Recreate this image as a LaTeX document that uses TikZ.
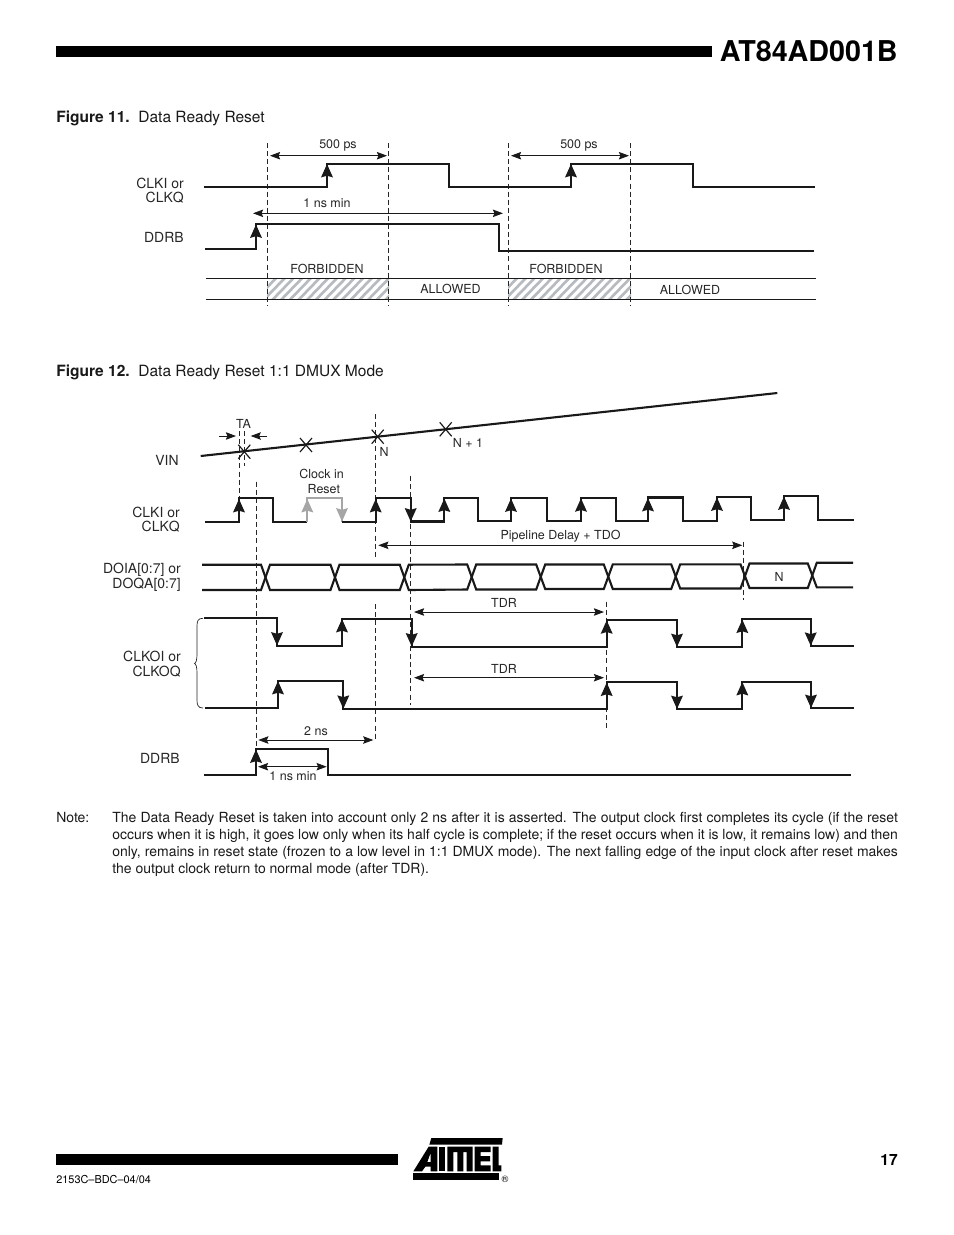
\documentclass[tikz,border=0pt]{standalone}
\usepackage{fontspec}
\setmainfont{TeX Gyre Heros}
\usetikzlibrary{arrows.meta}
\definecolor{hatchc}{RGB}{182,187,192}
\newcommand\upa[3]{\draw[wave,-{Stealth[length=8.5pt,width=7.4pt,inset=1pt]}] (#1,#2) -- (#1,#3);}
\newcommand\upg[3]{\draw[wave,gray!70,-{Stealth[length=8.5pt,width=7.4pt,inset=1pt]}] (#1,#2) -- (#1,#3);}
\tikzset{
  wave/.style={line width=1.35pt,black!90},
  thin line/.style={line width=0.6pt,black!90},
  guide/.style={line width=0.6pt,black!85,dash pattern=on 3.2pt off 2pt},
  dim/.style={line width=0.55pt,black!90,{Stealth[length=6.5pt,width=4.8pt,inset=1pt]}-{Stealth[length=6.5pt,width=4.8pt,inset=1pt]}},
  single/.style={line width=0.55pt,black!90,-{Stealth[length=6.5pt,width=4.8pt,inset=1pt]}},
  lbl/.style={font=\fontsize{8.95}{9.4}\selectfont,inner sep=0pt,anchor=east,align=right,text=black!85},
  sm/.style={font=\fontsize{8}{9}\selectfont,inner sep=0pt,text=black!85},
  bar/.style={fill=black,draw=none},
  hatchline/.style={line width=1.7pt,hatchc},
  body/.style={font=\fontsize{9.96}{12}\selectfont,inner sep=0pt,anchor=west,text=black!90},
  notetext/.style={font=\fontsize{8.97}{11}\selectfont,inner sep=0pt,anchor=base west,text=black!90},
  crossx/.style={line width=0.75pt,black!90}
}
\begin{document}
\begin{tikzpicture}[x=0.6415pt,y=-0.6415pt]
\path[use as bounding box] (0,0) rectangle (954,1235);
% ---------- header / footer
\fill[bar] (56,46) rectangle (712,57);
\node[anchor=east,inner sep=0pt,font=\fontsize{18.4}{20}\bfseries\selectfont] (title) at (898,51) {AT84AD001B};
\fill[bar] (56,1154) rectangle (398,1165);
\node[anchor=east,inner sep=0pt,font=\fontsize{9.96}{12}\bfseries\selectfont] (page) at (898,1160) {17};
\node[anchor=west,inner sep=0pt,font=\fontsize{7}{9}\selectfont] (docno) at (56,1180) {2153C–BDC–04/04};
% logo
\begin{scope}[shift={(400,1130)},xscale=1/3,yscale=1/3]
 \fill[black] (40,130) -- (298,130) -- (298,150) -- (40,150) -- cycle;
 \fill[black] (94,24) -- (308,24) -- (306,44) -- (88,44) -- cycle;
 \fill[black,even odd rule] (40,124) -- (86,50) -- (112,50) -- (112,124) -- (92,124) -- (92,110) -- (76,110) -- (66,124) -- cycle
   (92,68) -- (92,96) -- (82,96) -- cycle;
 \fill[black] (118,50) -- (136,50) -- (136,124) -- (118,124) -- cycle;
 \fill[black] (142,50) -- (218,50) -- (218,124) -- (200,124) -- (200,66) -- (190,66) -- (190,124) -- (172,124) -- (172,66) -- (160,66) -- (160,124) -- (142,124) -- cycle;
 \fill[black] (224,50) -- (272,50) -- (272,66) -- (242,66) -- (242,78) -- (270,78) -- (270,94) -- (242,94) -- (242,106) -- (272,106) -- (272,124) -- (224,124) -- cycle;
 \fill[black] (278,50) -- (296,50) -- (296,106) -- (304,106) -- (304,124) -- (278,124) -- cycle;
\end{scope}
\node[inner sep=0pt,font=\fontsize{6}{7}\selectfont] (reg) at (505,1179) {®};
% ---------- Figure 11
\node[body] (fig11) at (56,118) {\textbf{Figure 11.}\ \ Data Ready Reset};
\begin{scope}
 \clip (267,278.5) rectangle (389,299);
 \foreach \i in {0,...,18} \draw[hatchline] (250+8.7*\i,305) -- (250+8.7*\i+32,272);
\end{scope}
\begin{scope}
 \clip (508,278.5) rectangle (631,299);
 \foreach \i in {0,...,18} \draw[hatchline] (491+8.7*\i,305) -- (491+8.7*\i+32,272);
\end{scope}
\draw[thin line] (206,278.3) -- (816,278.3);
\draw[thin line] (206,299.3) -- (816,299.3);
\foreach \x in {267.3,388.7,508.3,630.7} \draw[guide] (\x,143) -- (\x,306);
\draw[wave] (204,186.7) -- (327,186.7) -- (327,163.7) -- (449.3,163.7) -- (449.3,186.7) -- (571,186.7) -- (571,163.7) -- (693,163.7) -- (693,186.7) -- (815,186.7);
\upa{327}{186.7}{164}
\upa{571}{186.7}{164}
\draw[wave] (205,248.7) -- (256,248.7) -- (256,224) -- (499,224) -- (499,251) -- (814,251);
\upa{256}{248.7}{224.5}
\coordinate (a1) at (270,155.7); \coordinate (a2) at (387,155.7);
\coordinate (b1) at (511,155.7); \coordinate (b2) at (629,155.7);
\coordinate (c1) at (253,213.3); \coordinate (c2) at (503,213.3);
\draw[dim] (a1) -- (a2);
\draw[dim] (b1) -- (b2);
\draw[dim] (c1) -- (c2);
\node[sm] (t500a) at (338,145) {500 ps};
\node[sm] (t500b) at (579,145) {500 ps};
\node[sm] (t1ns) at (327,203.5) {1 ns min};
\node[sm] (tf1) at (327,269) {FORBIDDEN};
\node[sm] (tf2) at (566,269) {FORBIDDEN};
\node[sm] (ta1) at (450.5,289) {ALLOWED};
\node[sm] (ta2) at (690,290) {ALLOWED};
\node[lbl] (l1) at (184,190.5) {CLKI or\\CLKQ};
\node[lbl] (l2) at (184,237) {DDRB};
% ---------- Figure 12
\node[body] (fig12) at (56,372) {\textbf{Figure 12.}\ \ Data Ready Reset 1:1 DMUX Mode};
% guides
\draw[guide] (239.3,431) -- (239.3,498);
\draw[guide] (244.3,431) -- (244.3,466);
\draw[guide] (256,481.7) -- (256,749);
\draw[guide] (375.3,414) -- (375.3,558);
\draw[guide] (375.3,604) -- (375.3,740.7);
\draw[guide] (410.7,475.7) -- (410.7,705);
\draw[guide] (743.3,541.7) -- (743.3,600);
\draw[guide] (606.7,601.7) -- (606.7,730);
% VIN
\draw[line width=1.35pt,black!90] (200.7,456) -- (777.3,393);
\foreach \x/\y in {244.3/451.7,306/445,377.7/436.7,445.7/429.3}
  \draw[crossx] (\x-6,\y-7) -- (\x+6,\y+7) (\x+6,\y-7) -- (\x-6,\y+7);
\coordinate (ta1s) at (219,436); \coordinate (ta1e) at (236,436);
\coordinate (ta2s) at (267,436); \coordinate (ta2e) at (250.7,436);
\draw[single] (ta1s) -- (ta1e);
\draw[single] (ta2s) -- (ta2e);
\node[sm] (tta) at (243.5,424) {TA};
\node[sm] (tn) at (384,452) {N};
\node[sm] (tn1) at (468,443) {N + 1};
\node[sm,align=center,font=\fontsize{8}{9.6}\selectfont] (tcr) at (321.5,481.3) {Clock in\\\hspace*{3pt}Reset};
% CLK
\draw[wave] (205,521.7) -- (239,521.7) -- (239,498.3) -- (273.3,498.3) -- (273.3,521.7) -- (307.3,521.7);
\draw[wave,gray!70] (307.3,521.7) -- (307.3,498.3) -- (342,498.3) -- (342,521.7);
\draw[wave] (342,521.7) -- (375.7,521.7) -- (375.7,498.3) -- (410.7,498.3) -- (410.7,521.5) -- (444.3,521.5) -- (444.3,498) -- (478.3,498) -- (478.3,521.3) -- (511,521.3) -- (511,498) -- (546.7,498) -- (546.7,521) -- (581,521) -- (581,497.8) -- (616,497.8) -- (616,521) -- (648,521) -- (648,497.5) -- (682.7,497.5) -- (682.7,521) -- (717,521) -- (717,497) -- (751,497) -- (751,520) -- (784,520) -- (784,496) -- (818.3,496) -- (818.3,520) -- (854,520);
\upa{239}{521.7}{499}
\upg{307.3}{521.7}{499}
\upg{342}{498.3}{521.5}
\upa{375.7}{521.7}{499}
\upa{410.7}{498.3}{521.5}
\upa{444.3}{521.5}{498.5}
\upa{511}{521.3}{498.5}
\upa{581}{521}{498.3}
\upa{648}{521}{498}
\upa{717}{521}{497.5}
\upa{784}{520}{496.5}
% bus
\draw[wave] (202,564.7) -- (261,564.7) -- (270,590) -- (330.5,590) -- (339.5,564.7) -- (399.8,564.7) -- (408.8,590) -- (467.2,589.5) -- (476.2,564.5) -- (536.2,564.5) -- (545.2,589) -- (603.8,589) -- (612.8,564.3) -- (671.2,564.3) -- (680.2,588.5) -- (740.5,588.5) -- (749.5,563.5) -- (807.8,563.5) -- (816.8,587.3) -- (853,587.3);
\draw[wave] (202,590) -- (261,590) -- (270,564.7) -- (330.5,564.7) -- (339.5,590) -- (399.8,590) -- (408.8,564.7) -- (467.2,564.5) -- (476.2,589.5) -- (536.2,589.5) -- (545.2,564.5) -- (603.8,564.5) -- (612.8,589) -- (671.2,589) -- (680.2,564.3) -- (740.5,564.3) -- (749.5,588) -- (807.8,588) -- (816.8,562.7) -- (853,562.7);
\coordinate (p1) at (378.3,545.3); \coordinate (p2) at (742.3,545.3);
\draw[dim] (p1) -- (p2);
\node[sm] (tpipe) at (560.5,536.5) {Pipeline Delay + TDO};
\node[sm] (tNb) at (779,576.5) {N};
% CLKO 1
\draw[wave] (204,618) -- (277,618) -- (277,645.7) -- (342,645.7) -- (342,618.7) -- (411.7,618.7) -- (411.7,646.7) -- (606.7,646.7) -- (606.7,620) -- (677,620) -- (677,647.3) -- (742.3,647.3) -- (742.3,619.3) -- (810.7,619.3) -- (810.7,646) -- (854,646);
\upa{277}{618}{645.5}
\upa{342}{645.7}{619}
\upa{411.7}{618.7}{646.5}
\upa{606.7}{646.7}{620.3}
\upa{677}{620}{647}
\upa{742.3}{647.3}{619.6}
\upa{810.7}{619.3}{645.8}
% CLKO 2
\draw[wave] (204.7,708.3) -- (278,708.3) -- (278,680.7) -- (343.3,680.7) -- (343.3,709) -- (606.7,709) -- (606.7,682.3) -- (677,682.3) -- (677,709.3) -- (742.3,709.3) -- (742.3,681.7) -- (811,681.7) -- (811,708.3) -- (854,708.3);
\upa{278}{708.3}{681}
\upa{343.3}{680.7}{708.8}
\upa{606.7}{709}{682.6}
\upa{677}{682.3}{709}
\upa{742.3}{709.3}{682}
\upa{811}{681.7}{708}
% TDR
\coordinate (d1) at (414,612); \coordinate (d2) at (604,612);
\coordinate (e1) at (414,677.7); \coordinate (e2) at (604,677.7);
\draw[dim] (d1) -- (d2);
\draw[dim] (e1) -- (e2);
\node[sm] (ttdr1) at (504,603) {TDR};
\node[sm] (ttdr2) at (504,669) {TDR};
% brace
\draw[line width=0.45pt,black!85] (203,618.3) .. controls (198,618.3) and (197,621) .. (197,626) -- (197,654) .. controls (197,660) and (196,663) .. (194.5,663.5) .. controls (196,664) and (197,667) .. (197,673) -- (197,700) .. controls (197,705) and (198,708) .. (203,708);
% DDRB
\draw[wave] (204,775) -- (256,775) -- (256,749) -- (328,749) -- (328,775) -- (850.7,775);
\upa{256}{775}{749.5}
\coordinate (f1) at (258.3,740); \coordinate (f2) at (373.3,740);
\coordinate (g1) at (258,766.7); \coordinate (g2) at (326.7,766.7);
\draw[dim] (f1) -- (f2);
\draw[dim] (g1) -- (g2);
\node[sm] (t2ns) at (316,731.5) {2 ns};
\node[sm] (t1ns2) at (293,776.5) {1 ns min};
% labels
\node[lbl] (m1) at (179,460.5) {VIN};
\node[lbl] (m2) at (180,519.5) {CLKI or\\CLKQ};
\node[lbl] (m3) at (181,577.5) {DOIA[0:7] or\\DOQA[0:7]};
\node[lbl] (m4) at (181,664) {CLKOI or\\CLKOQ};
\node[lbl] (m5) at (180,758.5) {DDRB};
% Note
\node[notetext] (note) at (56,822.5) {Note:};
\node[notetext] (n1) at (112,822.5) {\makebox[504pt][s]{The Data Ready Reset is taken into account only 2 ns after it is asserted. The output clock first completes its cycle (if the reset}};
\node[notetext] (n2) at (112,839.5) {\makebox[504pt][s]{occurs when it is high, it goes low only when its half cycle is complete; if the reset occurs when it is low, it remains low) and then}};
\node[notetext] (n3) at (112,856.5) {\makebox[504pt][s]{only, remains in reset state (frozen to a low level in 1:1 DMUX mode). The next falling edge of the input clock after reset makes}};
\node[notetext] (n4) at (112,873.5) {the output clock return to normal mode (after TDR).};
\end{tikzpicture}
\end{document}
